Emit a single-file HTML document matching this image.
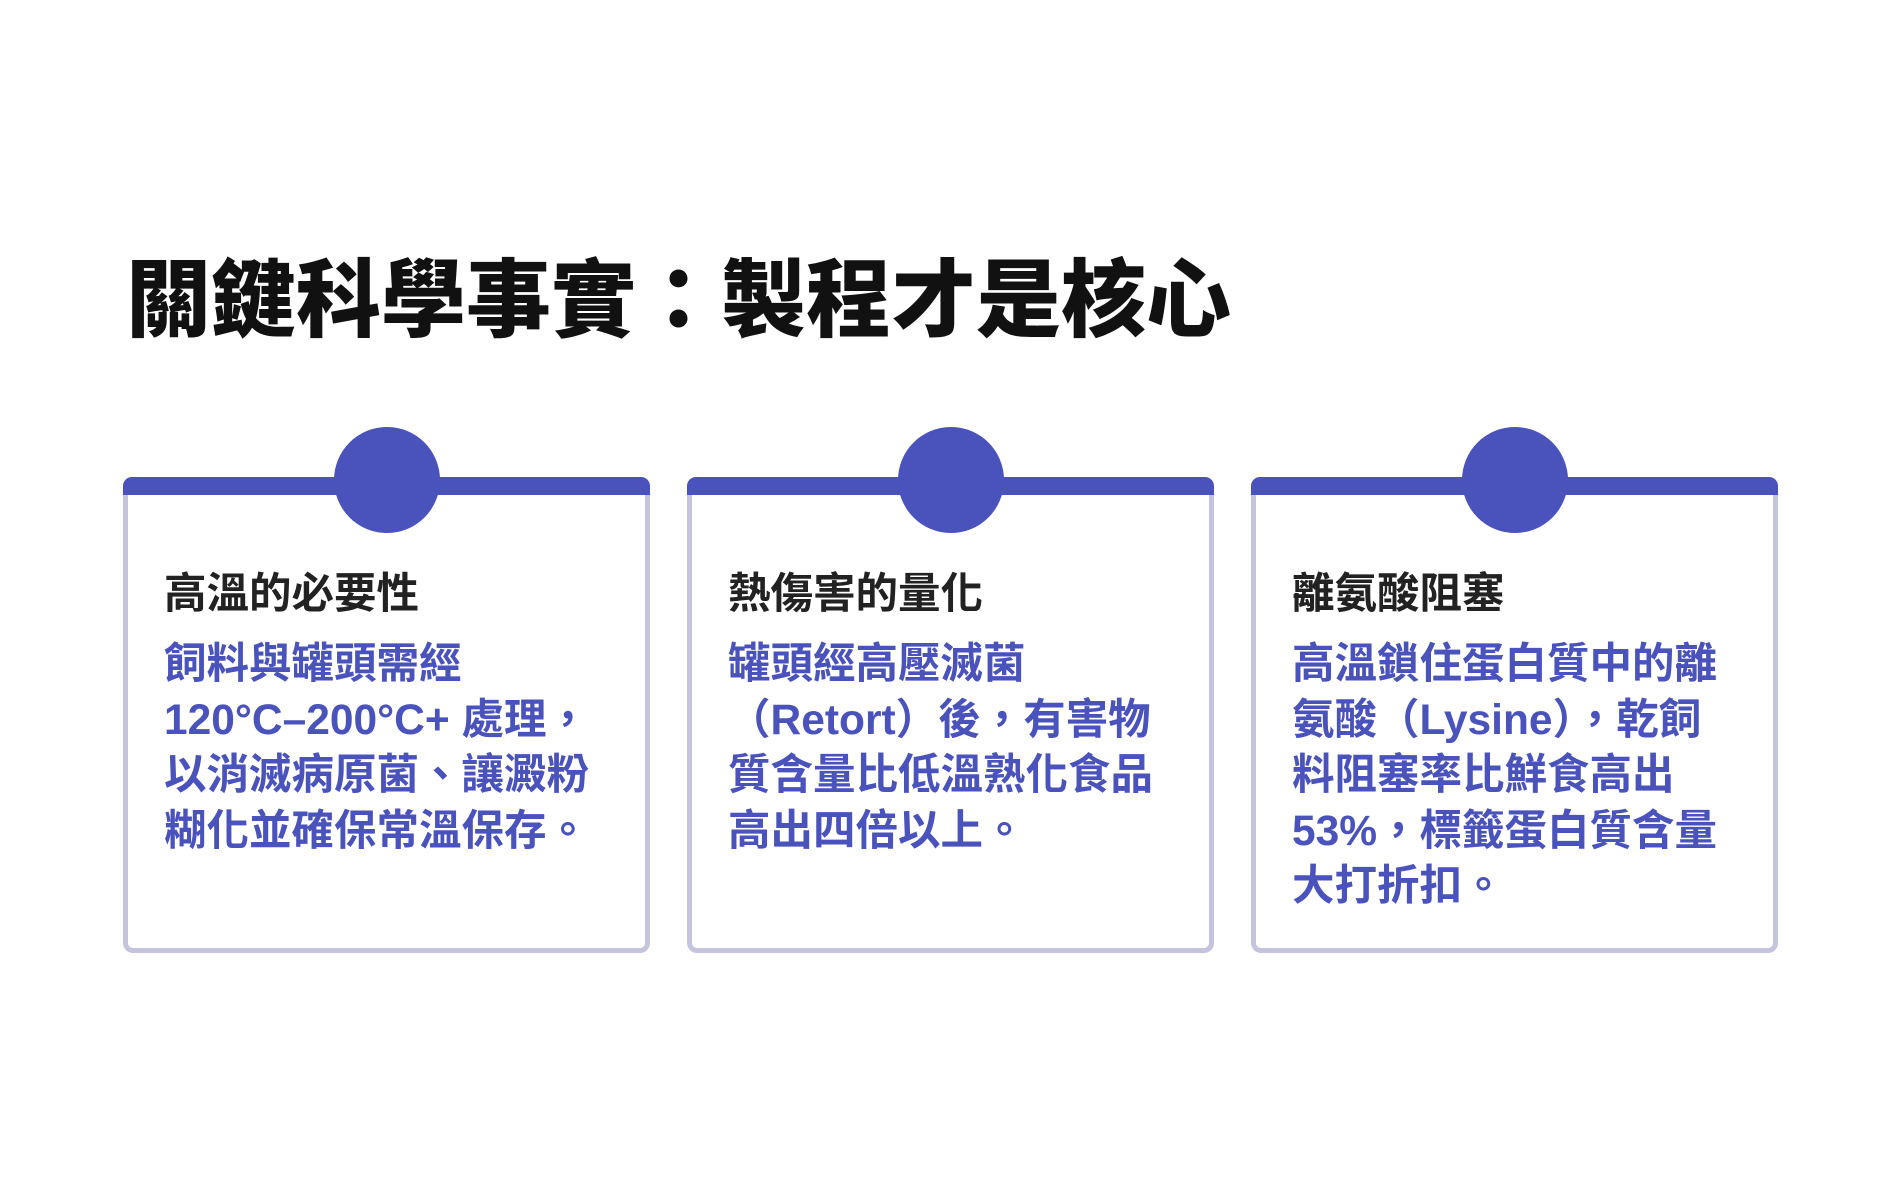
<!DOCTYPE html>
<html><head><meta charset="utf-8"><style>
body{margin:0;width:1887px;height:1186px;background:#fff;position:relative;overflow:hidden;font-family:"Liberation Sans","Noto Sans CJK TC",sans-serif;}
.title{position:absolute;left:126px;top:252px;font-size:85px;font-weight:900;color:#111;line-height:100px;white-space:nowrap;letter-spacing:0px}
.card{position:absolute;top:477px;width:527px;height:476px;box-sizing:border-box;border:5px solid #c4c4dc;border-top:none;border-radius:10px;background:#fff}
.bar{position:absolute;left:-5px;right:-5px;top:0;height:18px;background:#4a52bb;border-radius:9px 9px 0 0}
.dot{position:absolute;left:50%;top:-50px;width:106px;height:106px;margin-left:-53px;border-radius:50%;background:#4a52bb}
.h{position:absolute;left:36px;top:92px;font-size:42.5px;font-weight:700;color:#222;line-height:52px;white-space:nowrap}
.b{position:absolute;left:36px;top:160px;font-size:42.5px;font-weight:700;color:#4a52bb;line-height:55.5px;white-space:nowrap}
</style></head><body>
<div class="title">關鍵科學事實：製程才是核心</div>
<div class="card" style="left:123px"><div class="bar"></div><div class="dot"></div>
<div class="h">高溫的必要性</div>
<div class="b">飼料與罐頭需經<br>120°C–200°C+ 處理，<br>以消滅病原菌、讓澱粉<br>糊化並確保常溫保存。</div></div>
<div class="card" style="left:687px"><div class="bar"></div><div class="dot"></div>
<div class="h">熱傷害的量化</div>
<div class="b">罐頭經高壓滅菌<br>（Retort）後，有害物<br>質含量比低溫熟化食品<br>高出四倍以上。</div></div>
<div class="card" style="left:1251px"><div class="bar"></div><div class="dot"></div>
<div class="h">離氨酸阻塞</div>
<div class="b">高溫鎖住蛋白質中的離<br>氨酸（Lysine），乾飼<br>料阻塞率比鮮食高出<br>53%，標籤蛋白質含量<br>大打折扣。</div></div>
</body></html>
